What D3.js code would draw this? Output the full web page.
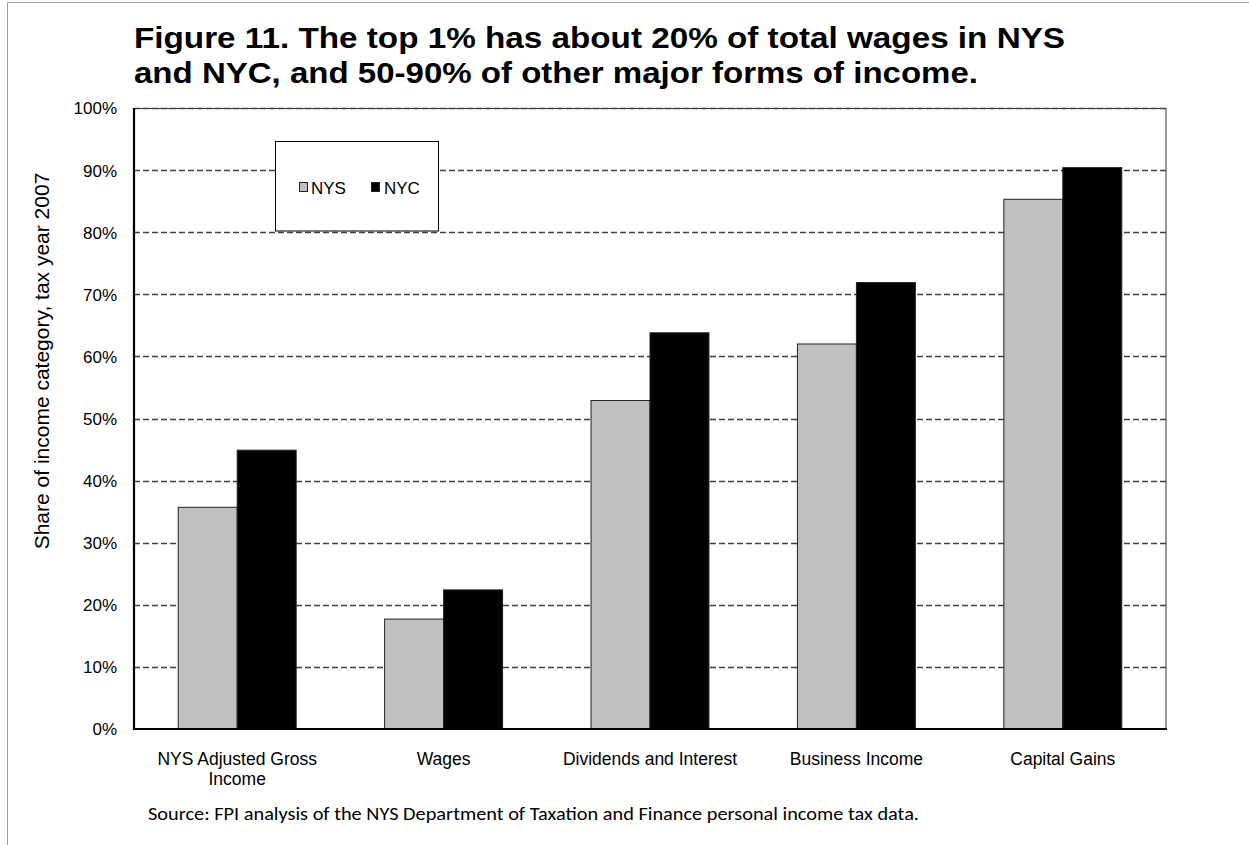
<!DOCTYPE html>
<html>
<head>
<meta charset="utf-8">
<script src="https://cdn.jsdelivr.net/npm/d3@7"></script>
<style>
  html, body { margin: 0; padding: 0; background: #fff; }
  svg { display: block; }
  text { font-family: "Liberation Sans", Arial, sans-serif; fill: #000; }
</style>
</head>
<body>
<svg id="chart" width="1249" height="845"></svg>
<script>
// Share of each income category held by the top 1%, tax year 2007
const categories = ["NYS Adjusted Gross|Income", "Wages", "Dividends and Interest", "Business Income", "Capital Gains"];
const seriesNames = ["NYS", "NYC"];
const nysValues = [35.7, 17.7, 52.9, 62.0, 85.3];
const nycValues = [44.9, 22.4, 63.8, 71.9, 90.4];
const yTicks = [0, 10, 20, 30, 40, 50, 60, 70, 80, 90, 100];
const seriesColors = { NYS: "#c0c0c0", NYC: "#000000" };

const svg = d3.select("#chart");
const plot = { left: 134, right: 1166, top: 108, bottom: 729 };

// outer frame
svg.append("path")
  .attr("d", "M7.5,845 L7.5,2.5 L1249,2.5")
  .attr("fill", "none").attr("stroke", "#a0a0a0").attr("stroke-width", 1);

// title
const title = svg.append("g").attr("font-weight", "bold").attr("font-size", 30);
title.append("text").attr("x", plot.left).attr("y", 48)
  .attr("textLength", 931).attr("lengthAdjust", "spacingAndGlyphs")
  .text("Figure 11. The top 1% has about 20% of total wages in NYS");
title.append("text").attr("x", plot.left).attr("y", 83)
  .attr("textLength", 844).attr("lengthAdjust", "spacingAndGlyphs")
  .text("and NYC, and 50-90% of other major forms of income.");

const x = d3.scaleBand().domain(categories).range([plot.left, plot.right]).paddingInner(0).paddingOuter(0);
const xs = d3.scaleBand().domain(seriesNames).range([0, x.bandwidth()]).paddingInner(0).paddingOuter(0.75);
const y = d3.scaleLinear().domain([0, 100]).range([plot.bottom, plot.top]);

// plot frame (top and right)
svg.append("rect")
  .attr("x", plot.left + 0.5).attr("y", plot.top + 0.5)
  .attr("width", plot.right - plot.left - 0.5).attr("height", plot.bottom - plot.top)
  .attr("fill", "#fff").attr("stroke", "#333").attr("stroke-width", 1);

// dashed gridlines
svg.append("g")
  .selectAll("line")
  .data(yTicks.filter(d => d > 0))
  .join("line")
  .attr("x1", plot.left).attr("x2", plot.right)
  .attr("y1", d => Math.round(y(d)) + 0.5).attr("y2", d => Math.round(y(d)) + 0.5)
  .attr("stroke", "#404040").attr("stroke-width", 1.3)
  .attr("stroke-dasharray", "6,3");

// bars
const rows = categories.map((c, i) => ({ cat: c, vals: [
  { key: "NYS", value: nysValues[i] },
  { key: "NYC", value: nycValues[i] }
]}));

const groups = svg.append("g").selectAll("g")
  .data(rows).join("g")
  .attr("transform", d => `translate(${x(d.cat)},0)`);

groups.selectAll("rect")
  .data(d => d.vals)
  .join("rect")
  .attr("x", d => xs(d.key))
  .attr("y", d => y(d.value))
  .attr("width", xs.bandwidth())
  .attr("height", d => y(0) - y(d.value))
  .attr("fill", d => seriesColors[d.key])
  .attr("stroke", "#222").attr("stroke-width", 1);

// axes
const yAxis = d3.axisLeft(y).tickValues(yTicks).tickSize(0).tickPadding(17)
  .tickFormat(d => d + "%");
const gy = svg.append("g").attr("transform", `translate(${plot.left},0)`).call(yAxis);
gy.select(".domain").remove();
gy.selectAll("text").attr("font-size", 17).attr("dy", "0.35em");

svg.append("line")
  .attr("x1", plot.left).attr("x2", plot.left)
  .attr("y1", plot.top).attr("y2", plot.bottom + 1)
  .attr("stroke", "#000").attr("stroke-width", 2.2);
svg.append("line")
  .attr("x1", plot.left - 1).attr("x2", plot.right + 1)
  .attr("y1", plot.bottom).attr("y2", plot.bottom)
  .attr("stroke", "#000").attr("stroke-width", 2.2);

// category labels
const xAxis = d3.axisBottom(x).tickSize(0).tickFormat("");
const gx = svg.append("g").attr("transform", `translate(0,${plot.bottom})`).call(xAxis);
gx.select(".domain").remove();
gx.selectAll(".tick").each(function(d) {
  const lines = d.split("|");
  const t = d3.select(this).append("text")
    .attr("text-anchor", "middle").attr("font-size", 17.5)
    .attr("y", 36).attr("fill", "#000");
  lines.forEach((ln, i) => {
    t.append("tspan").attr("x", 0).attr("dy", i === 0 ? 0 : 20).text(ln);
  });
});

// y-axis title
svg.append("text")
  .attr("transform", `translate(49,361) rotate(-90)`)
  .attr("text-anchor", "middle").attr("font-size", 21)
  .text("Share of  income category, tax year 2007");

// legend
const legend = svg.append("g");
legend.append("rect")
  .attr("x", 275.5).attr("y", 141.5).attr("width", 163).attr("height", 89.5)
  .attr("fill", "#fff").attr("stroke", "#000").attr("stroke-width", 1);
const legendItems = [
  { key: "NYS", sx: 299, tx: 311 },
  { key: "NYC", sx: 371, tx: 384 }
];
legendItems.forEach(it => {
  legend.append("rect").attr("x", it.sx + 0.5).attr("y", 182.5).attr("width", 8).attr("height", 9)
    .attr("fill", seriesColors[it.key]).attr("stroke", "#222").attr("stroke-width", 1);
  legend.append("text").attr("x", it.tx).attr("y", 193.5).attr("font-size", 17).text(it.key);
});

// source note
svg.append("text")
  .attr("x", 148).attr("y", 820)
  .style("font-family", "Carlito, Lato, 'Open Sans', sans-serif").attr("font-size", 18)
  .attr("textLength", 771).attr("lengthAdjust", "spacingAndGlyphs")
  .text("Source: FPI analysis of the NYS Department of Taxation and Finance personal income tax data.");
</script>
</body>
</html>
